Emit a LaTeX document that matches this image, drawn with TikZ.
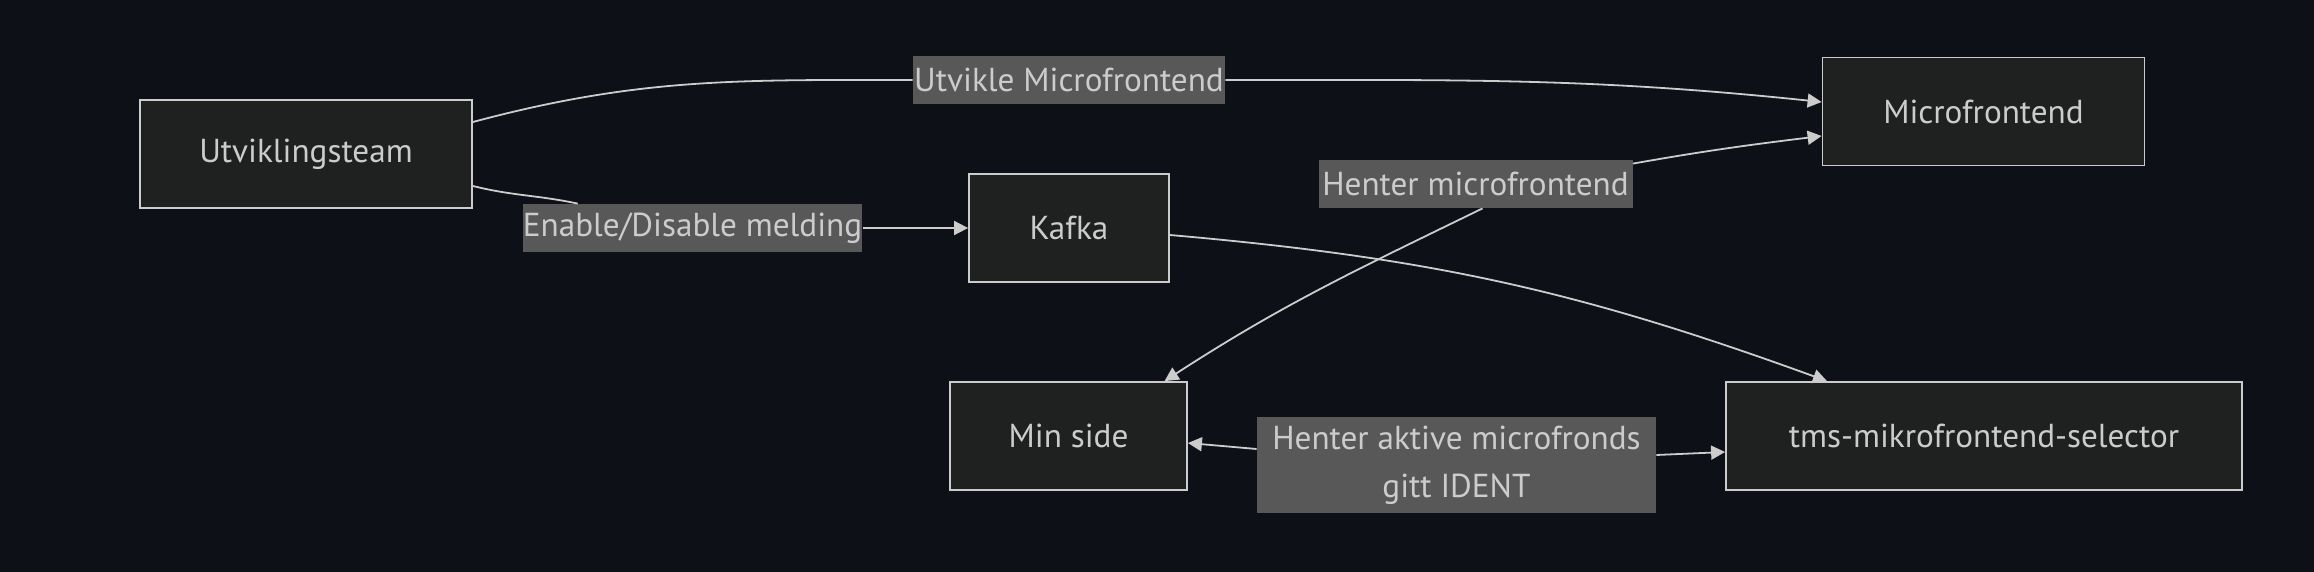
\documentclass[tikz,border=0pt]{standalone}
\usepackage{fontspec}
\setmainfont{PT Sans}
\usetikzlibrary{arrows.meta}
\definecolor{bgcol}{HTML}{0D1117}
\definecolor{nodefill}{HTML}{1F2020}
\definecolor{linecol}{HTML}{CCCCCC}
\definecolor{lblfill}{HTML}{585858}
\tikzset{
  box/.style={draw=linecol, fill=nodefill, line width=0.9pt, text=linecol,
    inner sep=0pt, minimum height=54pt, font=\fontsize{16.6}{24}\selectfont},
  lbl/.style={fill=lblfill, text=linecol, inner sep=0pt, minimum height=24pt,
    align=center, font=\fontsize{16.6}{24}\selectfont},
  edge/.style={draw=linecol, line width=0.9pt, >={Triangle[length=7pt,width=7pt]}}
}
\begin{document}
\begin{tikzpicture}[x=0.5pt, y=-0.5pt]
      \fill[bgcol] (0,0) rectangle (2314,572);
      \useasboundingbox (0,0) rectangle (2314,572);
      \draw
        (306,154) node[box, minimum width=166pt] (utv){Utviklingsteam}
        (1983.5,111.5) node[box, minimum width=161pt] (micro){Microfrontend}
        (1069,228) node[box, minimum width=100pt] (kafka){Kafka}
        (1068.5,436) node[box, minimum width=118.5pt] (minside){Min side}
        (1984,436) node[box, minimum width=258pt] (tms){tms-mikrofrontend-selector};
      \draw
        (1069,80) node[lbl, minimum width=156pt] (utvikle){Utvikle Microfrontend}
        (692.5,228) node[lbl, minimum width=169.5pt] (melding){Enable/Disable melding}
        (1475.5,184) node[lbl, minimum width=157pt] (henter){Henter microfrontend}
        (1456.5,465) node[lbl, minimum width=199.5pt, minimum height=48pt] (aktive){Henter aktive microfronds\\gitt IDENT};
      \begin{scope}[edge]
        \draw ([yshift=16pt]utv.east) to[out=15, in=180] (utvikle.west);
        \draw[->] (utvikle.east) to[out=0, in=174] ([yshift=4.75pt]micro.west);
        \draw ([yshift=-16pt]utv.east) to[out=-14, in=168] (melding);
        \draw[->] (melding.east) -- (kafka.west);
        \draw[->] ([yshift=-3.5pt]kafka.east) to[out=-5, in=160] ([xshift=-78.5pt]tms.north);
        \draw[<-] ([xshift=48pt]minside.north) to[out=33, in=-154] ([xshift=3.5pt]henter.south);
        \draw[->] ([yshift=-2pt]henter.north east) to[out=10, in=187] ([yshift=-12.25pt]micro.west);
        \draw[<-] ([yshift=-3.5pt]minside.east) -- ([yshift=8pt]aktive.west);
        \draw[->] ([yshift=5pt]aktive.east) -- ([yshift=-8pt]tms.west);
      \end{scope}
    \end{tikzpicture}
\end{document}
